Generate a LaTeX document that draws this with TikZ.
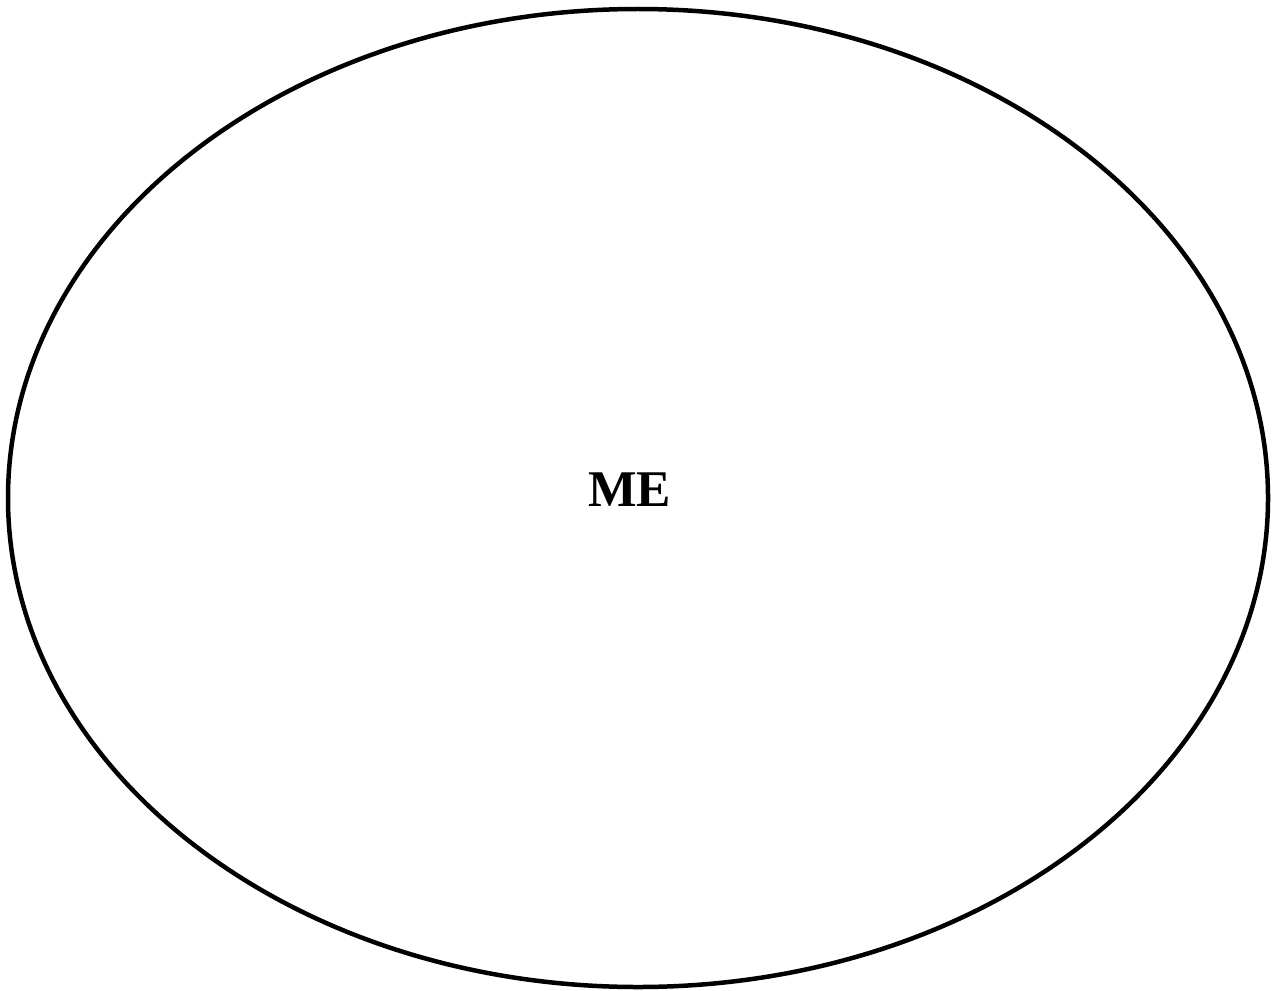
\documentclass[tikz,border=0pt]{standalone}
\usepackage{fontspec}
\setmainfont{Liberation Serif}
\usepackage{tikz}

\begin{document}
\begin{tikzpicture}[x=0.02cm,y=-0.02cm]
    \useasboundingbox (0,0) rectangle (1273,990);
    \draw[line width=0.09cm] (638,498) ellipse [x radius=630, y radius=489];
    \node[inner sep=0pt] (me) at (629.5,490) {\fontsize{29.3}{34}\selectfont\bfseries ME};
  \end{tikzpicture}
\end{document}
